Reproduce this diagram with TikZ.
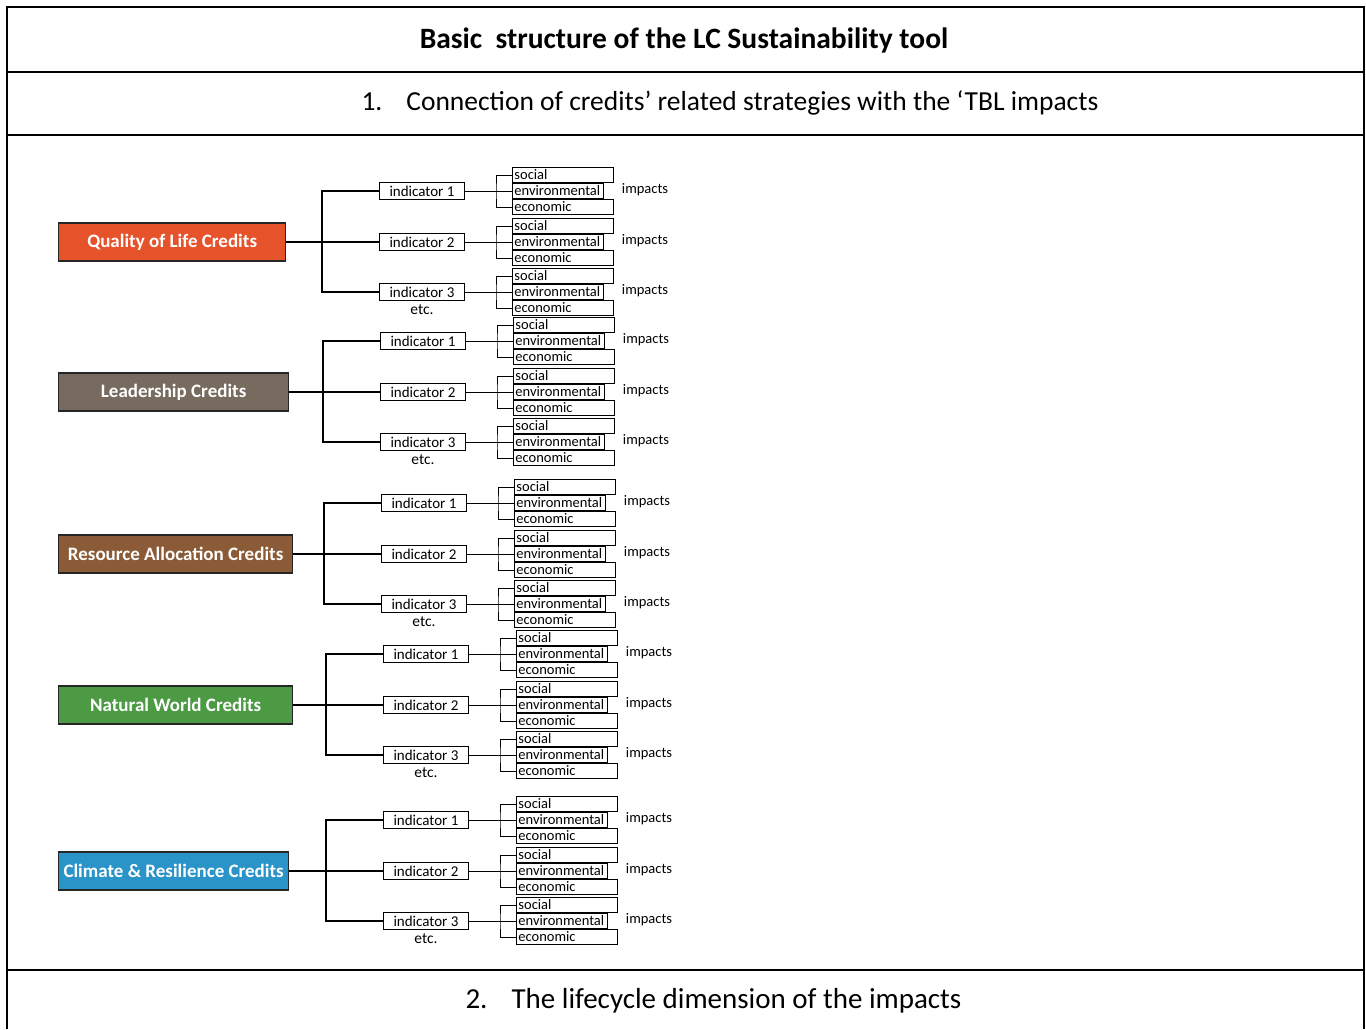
\documentclass[tikz,border=0pt]{standalone}
\usepackage{fontspec}
\setmainfont{Carlito}
\usetikzlibrary{positioning, calc}

\definecolor{qolred}{HTML}{E6532B}
\definecolor{leadgray}{HTML}{776A5E}
\definecolor{resbrown}{HTML}{8A5B36}
\definecolor{natgreen}{HTML}{4C9A44}
\definecolor{climblue}{HTML}{2A93C8}

\begin{document}
\begin{tikzpicture}[x=1pt, y=-1pt,
    credit/.style={draw=black!85, line width=1.3pt, text=white, font=\fontsize{19}{22}\selectfont\bfseries, minimum height=38pt, inner sep=0pt, anchor=west},
    indbox/.style={draw, line width=1pt, font=\fontsize{15}{17}\selectfont, minimum width=85pt, minimum height=17pt, inner sep=0pt, anchor=west},
    impbox/.style={draw, line width=0.9pt, font=\fontsize{14.5}{15}\selectfont, minimum height=15pt, inner ysep=0pt, inner xsep=2pt, anchor=west, align=left},
    small/.style={font=\fontsize{14.5}{16}\selectfont, inner sep=0pt},
    rowtext/.style={font=\fontsize{27.5}{32}\selectfont, anchor=west},
    tick/.style={line width=1.5pt},
    thintick/.style={line width=1pt}]
    \useasboundingbox (0,0) rectangle (1366,1029);

    % table frame and rows
    \draw[line width=2pt] (7,1029) -- (7,7) -- (1364,7) -- (1364,1029);
    \draw[line width=2pt] (7,72) -- (1364,72);
    \draw[line width=2pt] (7,135) -- (1364,135);
    \draw[line width=2pt] (7,970) -- (1364,970);
    \node[font=\fontsize{29.5}{34}\selectfont\bfseries] (title) at (684,40) {Basic\ \ structure of the LC Sustainability tool};
    \node[rowtext] (rowa) at (358,103) {1.\hspace{24pt}Connection of credits’ related strategies with the ‘TBL impacts};
    \node[rowtext, font=\fontsize{29}{33}\selectfont] (rowb) at (462,1001) {2.\hspace{24pt}The lifecycle dimension of the impacts};

    % credit groups
    \foreach \g/\name/\col/\yc/\w/\dx in {
        1/Quality of Life Credits/qolred/242/227/0,
        2/Leadership Credits/leadgray/392/230/1,
        3/Resource Allocation Credits/resbrown/554/234/2,
        4/Natural World Credits/natgreen/705/234/4,
        5/Climate \& Resilience Credits/climblue/871/230/4}{
        \node[credit, fill=\col, minimum width=\w pt] (cred\g) at (58,\yc) {\name};
        \foreach \k/\dy in {1/-51, 2/0, 3/50}{
            \node[indbox] (ind\g\k) at (379+\dx, \yc+\dy) {indicator \k};
            \node[impbox, text width=97pt] (soc\g\k) at (512+\dx, \yc+\dy-16) {social};
            \node[impbox, text width=87pt] (env\g\k) at (512+\dx, \yc+\dy) {environmental};
            \node[impbox, text width=97pt] (eco\g\k) at (512+\dx, \yc+\dy+16) {economic};
            \node[small] (imp\g\k) at (645+\dx, \yc+\dy-1) {impacts};
            \coordinate (ib\g\k) at (496+\dx, \yc+\dy);
            \draw[thintick] (ind\g\k.east) -- (env\g\k.west);
            \draw[thintick] (soc\g\k.west) -| (ib\g\k) |- (eco\g\k.west);
        }
        \node[small, font=\fontsize{15.5}{17}\selectfont, below=3pt of ind\g3] (etc\g) {etc.};
        \coordinate (br\g) at (322+\dx, \yc);
        \draw[tick] (cred\g.east) -- (ind\g2.west);
        \draw[tick] (ind\g1.west) -| (br\g) |- (ind\g3.west);
    }
\end{tikzpicture}
\end{document}
